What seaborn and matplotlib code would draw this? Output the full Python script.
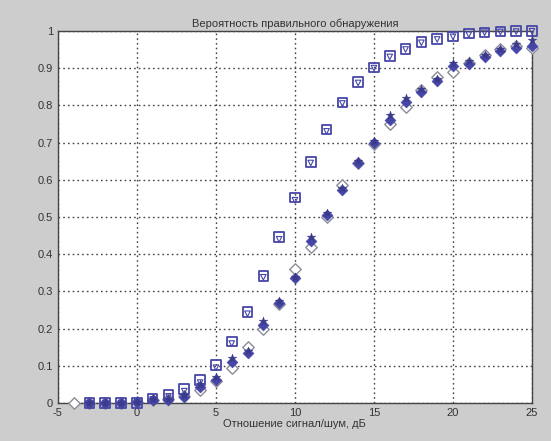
import numpy as np
import pandas as pd
import matplotlib
matplotlib.use("Agg")
import matplotlib.pyplot as plt
import seaborn as sns

# -----------------------------
# Data
# -----------------------------
snr_db = list(range(-4, 26))

# only the open diamond series has a point at -4 dB
p_square = [np.nan, 0, 0, 0, 0, 0.012, 0.022, 0.037, 0.062, 0.102, 0.165, 0.245, 0.342,
            0.447, 0.552, 0.648, 0.735, 0.808, 0.862, 0.902, 0.932, 0.952, 0.97,
            0.978, 0.985, 0.993, 0.996, 0.998, 0.999, 1.0]
p_tri = [np.nan, 0, 0, 0, 0.002, 0.01, 0.018, 0.032, 0.055, 0.095, 0.16, 0.24, 0.338,
         0.44, 0.545, 0.645, 0.73, 0.805, 0.86, 0.9, 0.93, 0.95, 0.968, 0.977,
         0.984, 0.99, 0.995, 0.997, 0.998, 0.999]
p_filled = [np.nan, 0, 0, 0, 0.002, 0.008, 0.008, 0.017, 0.042, 0.062, 0.11, 0.135, 0.21,
            0.27, 0.336, 0.435, 0.505, 0.572, 0.645, 0.70, 0.76, 0.81, 0.835,
            0.866, 0.905, 0.912, 0.93, 0.945, 0.955, 0.96]
p_star = [np.nan, 0, 0, 0, 0.003, 0.01, 0.012, 0.022, 0.05, 0.07, 0.12, 0.14, 0.22,
          0.275, 0.34, 0.445, 0.51, 0.578, 0.65, 0.705, 0.775, 0.82, 0.845, 0.87,
          0.915, 0.918, 0.935, 0.95, 0.965, 0.975]
p_open = [0, 0, 0, 0, 0.002, 0.008, 0.01, 0.02, 0.035, 0.06, 0.094, 0.15, 0.2,
          0.265, 0.36, 0.42, 0.5, 0.585, 0.645, 0.695, 0.75, 0.796, 0.84, 0.875,
          0.89, 0.915, 0.935, 0.95, 0.96, 0.955]

x_ticks = list(range(-5, 30, 5))
y_ticks = [round(v * 0.1, 1) for v in range(0, 11)]
y_tick_labels = ["0", "0.1", "0.2", "0.3", "0.4", "0.5", "0.6", "0.7", "0.8", "0.9", "1"]

df = pd.DataFrame({"snr": snr_db, "sq": p_square, "tri": p_tri,
                   "filled": p_filled, "star": p_star, "open": p_open})

# -----------------------------
# Plot
# -----------------------------
sns.set_style("white")
plt.rcParams["font.family"] = ["Liberation Sans", "DejaVu Sans"]
plt.rcParams["axes.unicode_minus"] = False

fig = plt.figure(figsize=(5.51, 4.41), dpi=100, facecolor="#cdcdcd")
ax = fig.add_axes([0.105, 0.086, 0.8605, 0.844])
ax.set_facecolor("white")

blue = "#4646a8"
gray = "#8c8c9a"

sns.scatterplot(data=df, x="snr", y="open", ax=ax, marker="D", s=34,
                facecolor="white", edgecolor=gray, linewidth=1.0, clip_on=False, zorder=3)
sns.scatterplot(data=df, x="snr", y="sq", ax=ax, marker="s", s=48,
                facecolor="none", edgecolor=blue, linewidth=1.3, clip_on=False, zorder=4)
sns.scatterplot(data=df, x="snr", y="tri", ax=ax, marker="v", s=16,
                facecolor="none", edgecolor=blue, linewidth=0.8, clip_on=False, zorder=4)
sns.scatterplot(data=df, x="snr", y="filled", ax=ax, marker="D", s=30,
                color=blue, edgecolor=blue, linewidth=0.5, clip_on=False, zorder=5)
sns.scatterplot(data=df, x="snr", y="star", ax=ax, marker="*", s=42,
                color="#3a3a8a", edgecolor="#3a3a8a", linewidth=0.3, clip_on=False, zorder=5)

ax.set_xlim(-5, 25)
ax.set_ylim(0, 1)
ax.set_xticks(x_ticks)
ax.set_yticks(y_ticks)
ax.set_yticklabels(y_tick_labels)
ax.tick_params(axis="both", labelsize=8, colors="#333333", length=3, direction="in")
ax.grid(True, color="#444444", linestyle=(0, (1.2, 2.2)), linewidth=1.0)

for side in ["top", "right", "bottom", "left"]:
    ax.spines[side].set_visible(True)
    ax.spines[side].set_color("#444444")
    ax.spines[side].set_linewidth(1.0)

ax.set_title("Вероятность правильного обнаружения", fontsize=8, color="#333333", pad=3)
ax.set_xlabel("Отношение сигнал/шум, дБ", fontsize=8, color="#333333", labelpad=1)
ax.set_ylabel("")

fig.savefig("out.png", dpi=100, facecolor=fig.get_facecolor())
plt.close(fig)
